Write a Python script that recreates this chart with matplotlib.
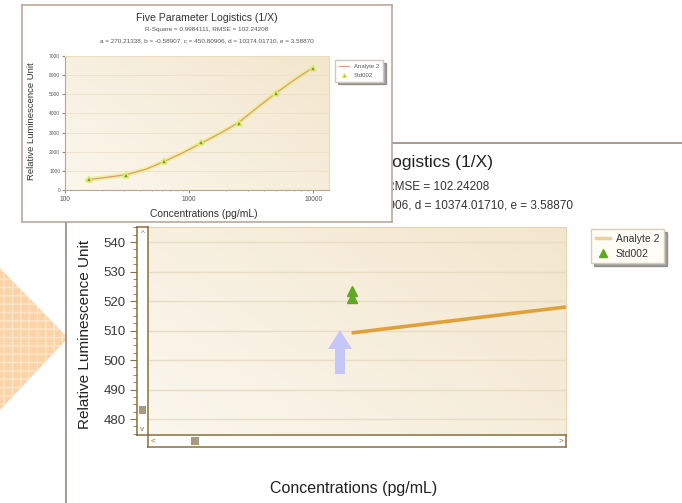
import matplotlib
matplotlib.use('Agg')
import matplotlib.pyplot as plt
import numpy as np
from matplotlib.patches import Rectangle, Polygon
from matplotlib.lines import Line2D
from matplotlib.transforms import Bbox, TransformedBbox
from matplotlib.ticker import MultipleLocator, NullLocator, NullFormatter, FixedLocator, FixedFormatter

plt.rcParams['font.family'] = ['Liberation Sans', 'DejaVu Sans']

W, H = 682, 503

# ---------------- data ----------------
# zoomed (main) chart
std_conc = [156.25, 156.25]
std_rlu = [523.5, 521.0]
fit_conc = [156.25, 250.0]
fit_rlu = [509.2, 518.0]
main_yticks = [480, 490, 500, 510, 520, 530, 540]

# overview (inset) chart
inset_conc = [156.25, 312.5, 625, 1250, 2500, 5000, 10000]
inset_rlu = [560, 800, 1510, 2490, 3480, 5050, 6360]
curve_conc = [150, 200, 312.5, 450, 625, 900, 1250, 1800, 2500, 3500, 5000, 7000, 10000]
curve_rlu = [540, 630, 800, 1090, 1480, 1960, 2440, 2980, 3520, 4280, 5060, 5740, 6400]
inset_yticks = [0, 1000, 2000, 3000, 4000, 5000, 6000, 7000]
inset_xticks = [100, 1000, 10000]
inset_xlabels = ['100', '1000', '10000']

title = "Five Parameter Logistics (1/X)"
stats1 = "R-Square = 0.9984111, RMSE = 102.24208"
stats2 = "a = 270.21338, b = -0.58907, c = 450.80906, d = 10374.01710, e = 3.58870"
xlab = "Concentrations (pg/mL)"
ylab = "Relative Luminescence Unit"
series_line = "Analyte 2"
series_pts = "Std002"


def fx(x):
    return x / W


def fy(y):
    return 1 - y / H


def frect(x0, y0, x1, y1):
    return [x0 / W, 1 - y1 / H, (x1 - x0) / W, (y1 - y0) / H]


fig = plt.figure(figsize=(6.82, 5.03), dpi=100)

# decorative orange half diamond
fig.patches.append(Polygon([(fx(0), fy(268)), (fx(68), fy(338)), (fx(0), fy(410))],
                           closed=True, transform=fig.transFigure,
                           facecolor='#FDD3A6', edgecolor='#FEE6CC', hatch='++',
                           linewidth=0, zorder=0))

# big panel
fig.patches.append(Rectangle((fx(66), fy(520)), (720 - 66) / W, (520 - 143) / H,
                             transform=fig.transFigure, facecolor='white',
                             edgecolor='#9C8878', linewidth=1.2, zorder=0.5))

# big-panel header texts (left part hidden behind the overview inset)
visible = TransformedBbox(Bbox([[fx(393), fy(222)], [1.0, fy(143)]]), fig.transFigure)
for yy, txt, fs, col in [(163, title, 12.5, '#222222'), (187, stats1, 8.5, '#333333'),
                         (205, stats2, 8.5, '#333333')]:
    t = fig.text(fx(376), fy(yy), txt, ha='center', va='center', fontsize=fs, color=col, zorder=3)
    t.set_clip_on(True)
    t.set_clip_box(visible)

# gradient background for main plot
grad = np.linspace(0, 1, 256)
gx, gy = np.meshgrid(grad, grad)
g = (gx * 0.6 + (1 - gy) * 0.4)
c0 = np.array([0xFB, 0xF7, 0xEE]) / 255
c1 = np.array([0xF3, 0xE6, 0xCD]) / 255
img = c0[None, None, :] * (1 - g[..., None]) + c1[None, None, :] * g[..., None]

bg = fig.add_axes(frect(148, 227, 566, 435), zorder=1)
bg.imshow(img, extent=(0, 1, 0, 1), aspect='auto', origin='upper')
bg.axis('off')

ax = fig.add_axes(frect(148, 227, 566, 435), zorder=2)
ax.set_facecolor('none')
ax.set_xscale('log')
ax.set_xlim(100, 250)
ax.set_ylim(474.6, 545.1)
ax.xaxis.set_major_locator(NullLocator())
ax.xaxis.set_minor_locator(NullLocator())
ax.set_yticks(main_yticks)
ax.yaxis.set_minor_locator(MultipleLocator(2.5))
ax.grid(axis='y', color='#E8DCC3', lw=1.0)
ax.set_axisbelow(True)
for s in ['top', 'right']:
    ax.spines[s].set_color('#E6D5AE')
ax.spines['bottom'].set_visible(False)
ax.spines['left'].set_position(('outward', 8))
ax.spines['left'].set_color('#8B6F3A')
ax.tick_params(axis='y', which='major', length=5, color='#8B6F3A', labelsize=9.5,
               labelcolor='#3A3A3A', pad=3)
ax.tick_params(axis='y', which='minor', length=3, color='#8B6F3A')
ax.plot(fit_conc, fit_rlu, color='#E0A13C', lw=2.6, solid_capstyle='butt', zorder=3)
ax.plot(std_conc, std_rlu, ls='none', marker='^', color='#5FA823', markersize=7.5, zorder=4)

# scrollbars
vs = fig.add_axes(frect(137, 227, 148, 435), zorder=3)
hs = fig.add_axes(frect(148, 435, 566, 447), zorder=3)
for sb in (vs, hs):
    sb.set_facecolor('white')
    sb.set_xticks([])
    sb.set_yticks([])
    sb.set_xlim(0, 1)
    sb.set_ylim(0, 1)
    for s in sb.spines.values():
        s.set_color('#8B6F3A')
        s.set_linewidth(1.1)
vs.add_patch(Rectangle((0.15, 0.1), 0.7, 0.04, facecolor='#A89A7E', edgecolor='none'))
vs.text(0.5, 0.985, '^', ha='center', va='top', fontsize=6, color='#8B6F3A')
vs.text(0.5, 0.01, 'v', ha='center', va='bottom', fontsize=6, color='#8B6F3A')
hs.add_patch(Rectangle((0.103, 0.15), 0.018, 0.7, facecolor='#A89A7E', edgecolor='none'))
hs.text(0.012, 0.5, '<', ha='center', va='center', fontsize=6, color='#8B6F3A')
hs.text(0.988, 0.5, '>', ha='center', va='center', fontsize=6, color='#8B6F3A')

# legend of main chart
h1 = Line2D([], [], color='#F2CF98', lw=2.5, label=series_line)
h2 = Line2D([], [], ls='none', marker='^', color='#5FA823', markersize=6, label=series_pts)
leg = fig.legend(handles=[h1, h2], loc='upper left', bbox_to_anchor=(fx(586), fy(224)),
                 bbox_transform=fig.transFigure, fontsize=7.5, frameon=True, fancybox=False,
                 shadow=True, edgecolor='#D9CDB4', facecolor='#FFFDF6', framealpha=1,
                 handlelength=1.4, borderpad=0.45, labelspacing=0.45, handletextpad=0.5)
for t in leg.get_texts():
    t.set_color('#333333')

fig.text(fx(354), fy(489), xlab, ha='center', va='center', fontsize=11.5, color='#222222', zorder=3)
fig.text(fx(85), fy(334), ylab, ha='center', va='center', rotation=90, fontsize=11, color='#222222', zorder=3)

# blue arrow annotation
fig.patches.append(Polygon([(fx(340), fy(330)), (fx(352), fy(349)), (fx(345), fy(349)),
                            (fx(345), fy(374)), (fx(335), fy(374)), (fx(335), fy(349)),
                            (fx(328), fy(349))], closed=True, transform=fig.transFigure,
                           facecolor='#C6C6F8', edgecolor='none', zorder=4))

# ---------------- inset ----------------
ip = fig.add_axes(frect(22, 5, 392, 222), zorder=6)
ip.set_facecolor('white')
ip.set_xticks([])
ip.set_yticks([])
for s in ip.spines.values():
    s.set_color('#BCA898')
    s.set_linewidth(1.2)
ip.text(fx(207), fy(18), title, transform=fig.transFigure, ha='center', va='center',
        fontsize=7.6, color='#333333')
ip.text(fx(207), fy(30), stats1, transform=fig.transFigure, ha='center', va='center',
        fontsize=4.6, color='#555555')
ip.text(fx(207), fy(41), stats2, transform=fig.transFigure, ha='center', va='center',
        fontsize=4.6, color='#555555')
ip.text(fx(204), fy(214), xlab, transform=fig.transFigure, ha='center', va='center',
        fontsize=7.4, color='#333333')
ip.text(fx(31), fy(121), ylab, transform=fig.transFigure, ha='center', va='center',
        rotation=90, fontsize=6.8, color='#333333')

ibg = fig.add_axes(frect(65, 56, 329, 190), zorder=6.5)
ibg.imshow(img, extent=(0, 1, 0, 1), aspect='auto', origin='upper')
ibg.axis('off')

ia = fig.add_axes(frect(65, 56, 329, 190), zorder=7)
ia.set_facecolor('none')
ia.set_xscale('log')
ia.set_xlim(100, 13400)
ia.set_ylim(0, 7000)
ia.set_yticks(inset_yticks)
ia.tick_params(axis='y', labelsize=3.5, length=2, color='#9C8A70', labelcolor='#555555', pad=1.5)
ia.xaxis.set_major_locator(FixedLocator(inset_xticks))
ia.xaxis.set_major_formatter(FixedFormatter(inset_xlabels))
ia.xaxis.set_minor_formatter(NullFormatter())
ia.tick_params(axis='x', which='major', labelsize=4.8, length=2, color='#9C8A70', labelcolor='#555555', pad=2.5)
ia.tick_params(axis='x', which='minor', length=1, color='#C0B090')
ia.grid(axis='y', color='#ECE0C6', lw=0.6)
ia.set_axisbelow(True)
for s in ['top', 'right']:
    ia.spines[s].set_color('#EADCBC')
for s in ['left', 'bottom']:
    ia.spines[s].set_color('#B8A888')
ia.plot(curve_conc, curve_rlu, color='#E8F080', lw=3.2, alpha=0.75, solid_capstyle='round')
ia.plot(curve_conc, curve_rlu, color='#E39B78', lw=0.9)
ia.plot(inset_conc, inset_rlu, ls='none', marker='^', ms=5, mfc='#7E9A34', mec='#E4EE74', mew=1.1)

ih1 = Line2D([], [], color='#E39B78', lw=0.8, label=series_line)
ih2 = Line2D([], [], ls='none', marker='^', mfc='#7E9A34', mec='#E4EE74', markersize=3, label=series_pts)
ileg = ia.legend(handles=[ih1, ih2], loc='upper left', bbox_to_anchor=(fx(332), fy(57)),
                 bbox_transform=fig.transFigure, fontsize=4.3, frameon=True, fancybox=False,
                 shadow=True, edgecolor='#D0C8B8', facecolor='white', framealpha=1,
                 handlelength=1.8, borderpad=0.6, labelspacing=0.7)
for t in ileg.get_texts():
    t.set_color('#555555')

fig.savefig('out.png', dpi=100)
